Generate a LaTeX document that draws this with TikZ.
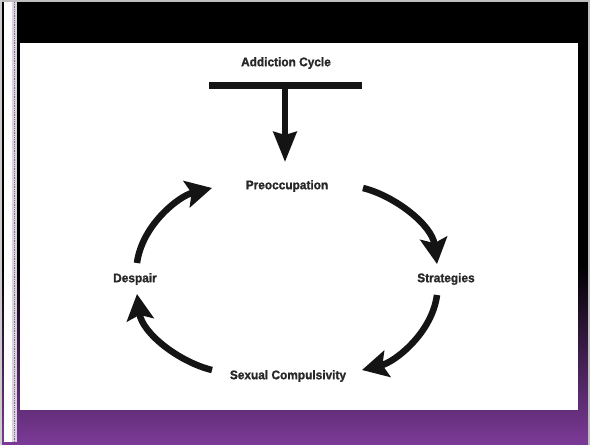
\documentclass[tikz,border=0pt]{standalone}
\usepackage{fontspec}
\setmainfont{Liberation Sans}
\newfontfamily\lblfont[FakeStretch=0.95,FakeBold=1.2]{Liberation Sans Bold}
\usetikzlibrary{arrows.meta}
\definecolor{purp}{RGB}{124,58,152}
\definecolor{txtc}{RGB}{40,40,40}
\definecolor{stripc}{RGB}{220,210,226}
\tikzset{
  lbl/.style={font=\lblfont\fontsize{12.5}{14}\selectfont, text=txtc, inner sep=1pt},
  cyc/.style={line width=6.5pt, draw=black!92, -{Stealth[length=26pt,width=27pt,inset=5pt]}},
  downarrow/.style={line width=6pt, draw=black!92, -{Stealth[length=30pt,width=23pt,inset=3pt]}},
  tbar/.style={line width=7pt, draw=black!92}
}
\begin{document}
\begin{tikzpicture}[x=1pt,y=-1pt]
\useasboundingbox (0,0) rectangle (590,445);
% background
\fill[black] (0,0) rectangle (590,445);
\shade[top color=black, bottom color=purp] (0,265) rectangle (590,445);
\fill[black!25] (0,0) rectangle (590,2);
\fill[black!25] (588,0) rectangle (590,445);
% left strip
\fill[black!20] (0,0) rectangle (2,445);
\fill[white] (4,2) rectangle (12,442);
\fill[stripc] (12,2) rectangle (17,442);
\draw[black!55, densely dotted, line width=0.8pt] (14,2) -- (14,442);
% white panel
\fill[white] (20,43) rectangle (578,410);

% texts
\node[lbl] (title) at (286,63) {Addiction Cycle};
\node[lbl] (pre) at (287,186) {Preoccupation};
\node[lbl] (str) at (446,279) {Strategies};
\node[lbl] (sex) at (288,376) {Sexual Compulsivity};
\node[lbl] (des) at (135,279) {Despair};

% T bar and arrow
\coordinate (tl) at (209,85);
\coordinate (tr) at (362,85);
\coordinate (tm) at (285,85);
\coordinate (tip) at (285,162);
\draw[tbar] (tl) -- (tr);
\draw[downarrow] (tm) -- (tip);

% cycle arrows
\coordinate (a1s) at (363,188); \coordinate (a1e) at (437,264);
\coordinate (a2s) at (437,295); \coordinate (a2e) at (362,370);
\coordinate (a3s) at (212,370); \coordinate (a3e) at (137,294);
\coordinate (a4s) at (137,263); \coordinate (a4e) at (212,188);
\draw[cyc] (a1s) .. controls (395,196) and (432,225) .. (a1e);
\draw[cyc] (a2s) .. controls (432,333) and (395,362) .. (a2e);
\draw[cyc] (a3s) .. controls (179,362) and (142,333) .. (a3e);
\draw[cyc] (a4s) .. controls (142,225) and (179,196) .. (a4e);
\end{tikzpicture}
\end{document}
